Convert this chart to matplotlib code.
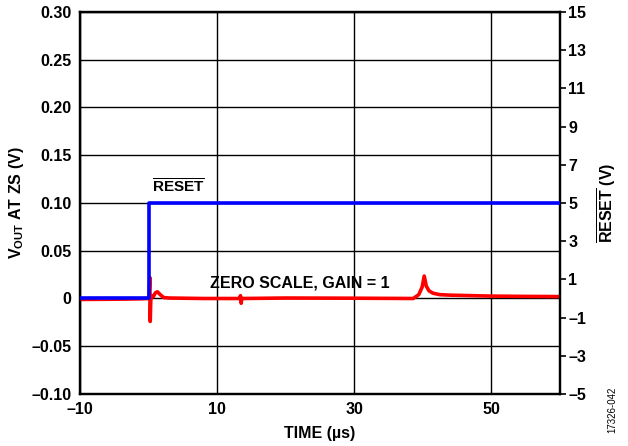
import matplotlib
matplotlib.use("Agg")
import matplotlib.pyplot as plt

plt.rcParams['font.family'] = ['Liberation Sans', 'DejaVu Sans']
plt.rcParams['font.weight'] = 'bold'
plt.rcParams['mathtext.fontset'] = 'custom'
plt.rcParams['mathtext.rm'] = 'Liberation Sans:bold'
plt.rcParams['mathtext.bf'] = 'Liberation Sans:bold'
plt.rcParams['mathtext.it'] = 'Liberation Sans:bold'

# ---- data ----
reset_t = [-10, 0.0, 0.0, 60]
reset_v = [0, 0, 5, 5]

vout_t = [-10, -6, -3, -1, 0.05, 0.18, 0.24, 0.32, 0.45, 0.7, 1.0, 1.3, 1.7, 2.2, 3.0,
          8, 13.3, 13.4, 13.5, 13.6, 20, 30, 38.6, 39.4, 39.9, 40.2, 40.5, 40.9,
          41.5, 42.5, 44, 47, 50, 55, 60]
vout_v = [-0.001, -0.0008, -0.0006, -0.0003, 0.0, 0.022, -0.024, -0.002, 0.003, 0.002,
          0.006, 0.007, 0.004, 0.001, 0.0005,
          0.0, 0.0, 0.003, -0.005, 0.0, 0.0005, 0.0003, 0.0, 0.004, 0.012, 0.0235, 0.013,
          0.008, 0.0055, 0.004, 0.0035, 0.003, 0.0025, 0.0022, 0.002]

left_ticks = [-0.10, -0.05, 0, 0.05, 0.10, 0.15, 0.20, 0.25, 0.30]
left_labels = ['–0.10', '–0.05', '0', '0.05', '0.10', '0.15', '0.20', '0.25', '0.30']
right_ticks = [-5, -3, -1, 1, 3, 5, 7, 9, 11, 13, 15]
right_labels = ['–5', '–3', '–1', '1', '3', '5', '7', '9', '11', '13', '15']
x_ticks = [-10, 10, 30, 50]
x_labels = ['–10', '10', '30', '50']

fig = plt.figure(figsize=(6.28, 4.46), dpi=100)
ax = fig.add_axes([0.1274, 0.1166, 0.7643, 0.8565])
ax.plot(vout_t, vout_v, color='#ff0000', lw=2.6, solid_joinstyle='round', zorder=3)
ax.set_xlim(-10, 60)
ax.set_ylim(-0.10, 0.30)
ax.set_yticks(left_ticks)
ax.set_yticklabels(left_labels)
ax.set_xticks(x_ticks)
ax.set_xticklabels(x_labels)
ax.tick_params(axis='both', length=0, labelsize=11.5, pad=6)
ax.grid(True, color='black', lw=1.0)
ax.set_axisbelow(True)
for s in ax.spines.values():
    s.set_linewidth(1.6)

ax2 = ax.twinx()
ax2.plot(reset_t, reset_v, color='#0000ff', lw=2.6, zorder=4)
ax2.set_ylim(-5, 15)
ax2.set_yticks(right_ticks)
ax2.set_yticklabels(right_labels)
ax2.tick_params(axis='y', length=4, width=1.2, labelsize=11.5, pad=2, direction='out')
for s in ax2.spines.values():
    s.set_linewidth(1.6)

ax.set_xlabel('TIME (µs)', fontsize=11.5, fontweight='bold', labelpad=6)
ax.set_ylabel(r'V$_{\mathrm{OUT}}$ AT ZS (V)', fontsize=11.5, fontweight='bold', labelpad=4)
ax2.set_ylabel(r'$\overline{\mathrm{RESET}}$ (V)', fontsize=11.5, fontweight='bold', labelpad=6)

ax.text(0.5, 0.117, r'$\overline{\mathrm{RESET}}$', fontsize=11, fontweight='bold',
        ha='left', va='center', zorder=6)
ax.text(9.0, 0.0165, 'ZERO SCALE, GAIN = 1', fontsize=11.5, fontweight='bold',
        ha='left', va='center', zorder=6)
fig.text(0.975, 0.03, '17326-042', fontsize=7, fontweight='normal', rotation=90,
         ha='center', va='bottom')

fig.savefig('out.png', dpi=100)
